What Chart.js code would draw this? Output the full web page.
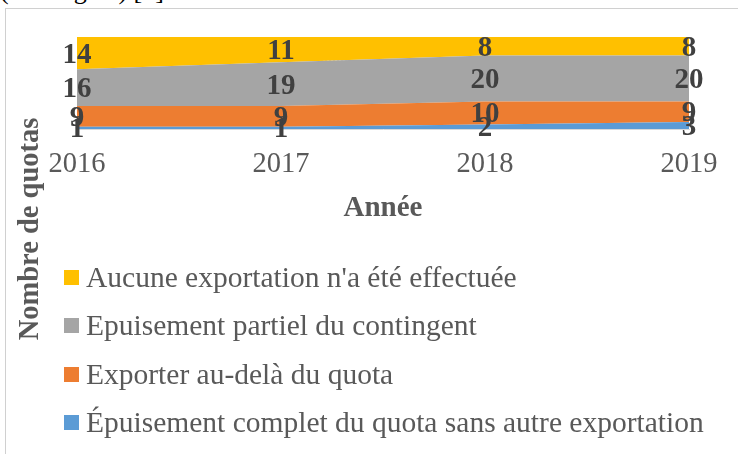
<!DOCTYPE html>
<html>
<head>
<meta charset="utf-8">
<script src="https://cdn.jsdelivr.net/npm/chart.js@4"></script>
<style>
  html, body { margin: 0; padding: 0; background: #fff; }
  #wrap { position: relative; width: 738px; height: 454px; overflow: hidden; }
  .serif { font-family: "Liberation Serif", "Times New Roman", serif; }
  #cut { position: absolute; left: 0; top: -22px; font-size: 26px; line-height: 26px; color: #000; white-space: nowrap; }
  #frame { position: absolute; left: 5px; top: 8px; width: 800px; height: 500px;
           border-left: 1px solid #d0d0d0; border-top: 1px solid #d0d0d0; }
  #box { position: absolute; left: 0; top: 0; width: 738px; height: 454px; }
  #ytitle { position: absolute; left: -101px; top: 212px; width: 260px; height: 34px; line-height: 34px;
            text-align: center; font-size: 28.5px; font-weight: bold; color: #595959;
            transform: rotate(-90deg); white-space: nowrap; }
  #legend { position: absolute; left: 64px; top: 253px; }
  .row { display: flex; align-items: center; height: 48.5px; }
  .sw { width: 15px; height: 15px; margin-right: 7px; }
  .lab { font-size: 29.5px; color: #595959; white-space: nowrap; }
</style>
</head>
<body>
<div id="wrap">
  <div id="cut" class="serif">(contingent) [4].</div>
  <div id="frame"></div>
  <div id="box"><canvas id="c"></canvas></div>
  <div id="ytitle" class="serif">Nombre de quotas</div>
  <div id="legend" class="serif"></div>
</div>
<script>
// data
const years = ['2016', '2017', '2018', '2019'];
const complet = [1, 1, 2, 3];
const auDela = [9, 9, 10, 9];
const partiel = [16, 19, 20, 20];
const aucune = [14, 11, 8, 8];

const seriesNames = [
  'Épuisement complet du quota sans autre exportation',
  'Exporter au-delà du quota',
  'Epuisement partiel du contingent',
  "Aucune exportation n'a été effectuée"
];
const seriesColors = ['#5B9BD5', '#ED7D31', '#A5A5A5', '#FFC000'];
const seriesValues = [complet, auDela, partiel, aucune];

const serif = '"Liberation Serif", "Times New Roman", serif';

// legend, top row is the last series
const legend = document.getElementById('legend');
for (let i = seriesNames.length - 1; i >= 0; i--) {
  const row = document.createElement('div');
  row.className = 'row';
  const sw = document.createElement('div');
  sw.className = 'sw';
  sw.style.background = seriesColors[i];
  const lab = document.createElement('div');
  lab.className = 'lab';
  lab.textContent = seriesNames[i];
  row.appendChild(sw);
  row.appendChild(lab);
  legend.appendChild(row);
}

// value labels centred in each band
const bandLabels = {
  id: 'bandLabels',
  afterDatasetsDraw(chart) {
    const ctx = chart.ctx;
    const yScale = chart.scales.y;
    ctx.save();
    ctx.font = 'bold 29px ' + serif;
    ctx.fillStyle = '#404040';
    ctx.textAlign = 'center';
    ctx.textBaseline = 'middle';
    chart.data.datasets.forEach((ds, d) => {
      const meta = chart.getDatasetMeta(d);
      meta.data.forEach((pt, j) => {
        const bottom = d === 0 ? yScale.getPixelForValue(0) : chart.getDatasetMeta(d - 1).data[j].y;
        ctx.fillText(String(ds.data[j]), pt.x, (pt.y + bottom) / 2 + 2);
      });
    });
    ctx.restore();
  }
};

new Chart(document.getElementById('c'), {
  type: 'line',
  data: {
    labels: years,
    datasets: seriesValues.map((vals, i) => ({
      label: seriesNames[i],
      data: vals,
      backgroundColor: seriesColors[i],
      borderColor: seriesColors[i],
      borderWidth: 0,
      pointRadius: 0,
      tension: 0,
      fill: i === 0 ? 'origin' : '-1'
    }))
  },
  options: {
    responsive: true,
    maintainAspectRatio: false,
    animation: false,
    layout: { padding: { left: 77, right: 49, top: 37, bottom: 225 } },
    plugins: {
      legend: { display: false },
      tooltip: { enabled: false }
    },
    scales: {
      x: {
        grid: { display: false, drawTicks: false },
        border: { display: true, color: '#D9D9D9' },
        ticks: {
          color: '#595959',
          font: { family: serif, size: 28.5 },
          padding: 18,
          maxRotation: 0,
          autoSkip: false
        },
        title: {
          display: true,
          text: 'Année',
          color: '#595959',
          font: { family: serif, size: 29, weight: 'bold' },
          padding: { top: 0, bottom: 3 }
        },
        afterFit: (s) => { s.height = 100; }
      },
      y: {
        stacked: true,
        min: 0,
        max: 40,
        ticks: { display: false, stepSize: 10 },
        grid: { color: '#D9D9D9', drawTicks: false },
        border: { display: false, dash: [2, 2] },
        afterFit: (s) => { s.width = 0; }
      }
    }
  },
  plugins: [bandLabels]
});
</script>
</body>
</html>
